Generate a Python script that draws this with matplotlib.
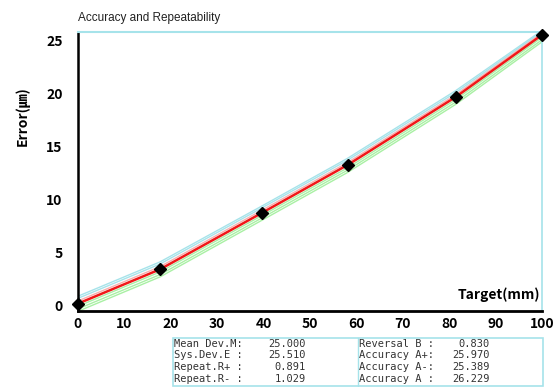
import matplotlib
matplotlib.use("Agg")
import matplotlib.pyplot as plt
from matplotlib.patches import Rectangle
from matplotlib.lines import Line2D

# measured points (target position in mm, error in um)
target = [0, 17.7, 39.7, 58.1, 81.4, 100]
mean_err = [0.15, 3.40, 8.75, 13.27, 19.70, 25.58]
pink_run = [0.40, 3.65, 9.00, 13.50, 19.92, 25.75]
cyan_runs = [
    [0.65, 3.90, 9.22, 13.72, 20.12, 25.88],
    [0.85, 4.10, 9.40, 13.90, 20.30, 26.00],
]
green_runs = [
    [-0.10, 3.15, 8.50, 13.00, 19.45, 25.35],
    [-0.35, 2.90, 8.27, 12.78, 19.22, 25.12],
    [-0.58, 2.68, 8.05, 12.56, 19.00, 24.92],
]

xticks = [0, 10, 20, 30, 40, 50, 60, 70, 80, 90, 100]
yticks = [0, 5, 10, 15, 20, 25]

stats_left = [("Mean Dev.M:", "25.000"), ("Sys.Dev.E :", "25.510"),
              ("Repeat.R+ :", "0.891"), ("Repeat.R- :", "1.029")]
stats_right = [("Reversal B :", "0.830"), ("Accuracy A+:", "25.970"),
               ("Accuracy A-:", "25.389"), ("Accuracy A :", "26.229")]

W, H = 557, 387
fig = plt.figure(figsize=(W / 100, H / 100), dpi=100)
ax = fig.add_axes([78 / W, 1 - 311 / H, (542 - 78) / W, (311 - 32) / H])

bold = dict(family=["Noto Sans CJK KR", "DejaVu Sans"], weight="bold")
cyan = "#a6e3ea"
green = "#a9f0a4"

for run in cyan_runs:
    ax.plot(target, run, color=cyan, lw=1.0, zorder=2)
for run in green_runs:
    ax.plot(target, run, color=green, lw=1.0, zorder=2)
ax.plot(target, pink_run, color="#f5b0b0", lw=1.0, zorder=3)
ax.plot(target, mean_err, color="#f01818", lw=1.8, zorder=4)
ax.plot(target, mean_err, ls="none", marker="D", ms=6.5, color="black",
        zorder=5, clip_on=False)

ax.set_xlim(0, 100)
ax.set_ylim(-0.55, 25.85)
ax.set_xticks(xticks)
ax.set_yticks(yticks)
ax.tick_params(length=0)
ax.tick_params(axis="y", pad=11)
ax.tick_params(axis="x", pad=4)
for lab in ax.get_xticklabels() + ax.get_yticklabels():
    lab.set_fontfamily(["Noto Sans CJK KR", "DejaVu Sans"])
    lab.set_fontweight("bold")
    lab.set_fontsize(10)

ax.spines["left"].set_color("black")
ax.spines["left"].set_linewidth(1.8)
ax.spines["bottom"].set_color("black")
ax.spines["bottom"].set_linewidth(2.0)
ax.spines["top"].set_color(cyan)
ax.spines["top"].set_linewidth(1.5)
ax.spines["right"].set_color(cyan)
ax.spines["right"].set_linewidth(1.2)

ax.text(0.995, 0.06, "Target(mm)", transform=ax.transAxes, ha="right",
        va="center", fontsize=10, **bold)
fig.text(22 / W, 1 - 116 / H, "Error(㎛)", rotation=90, ha="center",
         va="center", fontsize=10, **bold)
fig.text(78 / W, 1 - 18 / H, "Accuracy and Repeatability", ha="left",
         va="center", fontsize=8.5, color="#222222",
         family=["Liberation Sans", "DejaVu Sans"])

# stats table under the axis
fig.patches.append(Rectangle((173 / W, 1 - 386 / H), (543 - 173) / W,
                             (386 - 338) / H, transform=fig.transFigure,
                             fill=False, ec=cyan, lw=1.2))
fig.add_artist(Line2D([358 / W, 358 / W], [1 - 386 / H, 1 - 338 / H],
                      transform=fig.transFigure, color=cyan, lw=1.0))
row_y = [344, 355, 367, 379]
mono = dict(family="DejaVu Sans Mono", fontsize=7.5, color="#333333",
            va="center")
for (name, val), y in zip(stats_left, row_y):
    fig.text(174 / W, 1 - y / H, name, ha="left", **mono)
    fig.text(306 / W, 1 - y / H, val, ha="right", **mono)
for (name, val), y in zip(stats_right, row_y):
    fig.text(359 / W, 1 - y / H, name, ha="left", **mono)
    fig.text(490 / W, 1 - y / H, val, ha="right", **mono)

fig.savefig("out.png", dpi=100)
